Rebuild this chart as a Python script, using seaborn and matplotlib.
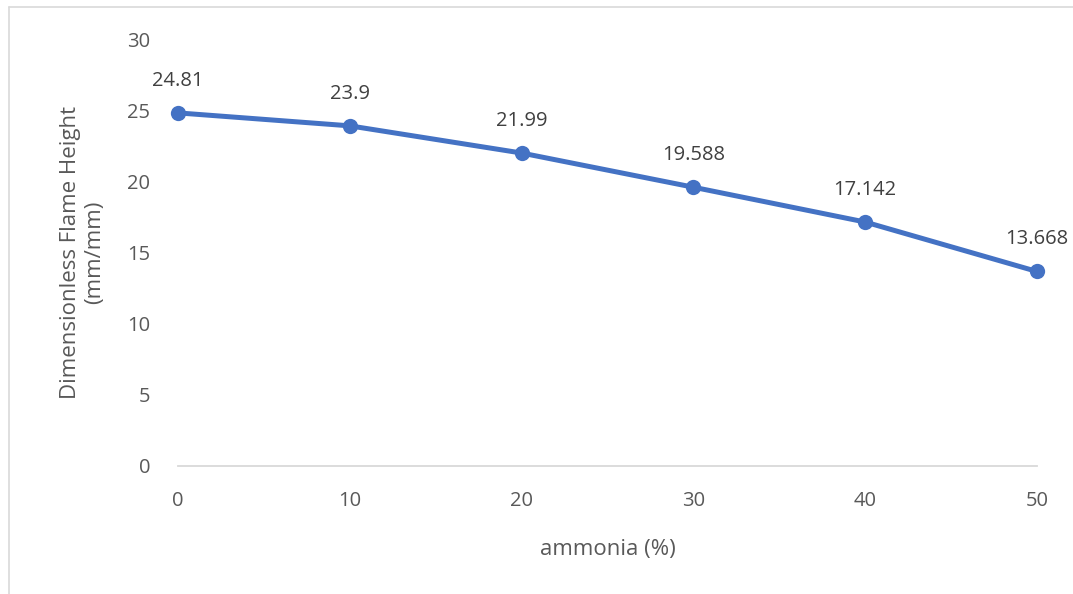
import matplotlib
matplotlib.use("Agg")
import matplotlib.pyplot as plt
import seaborn as sns
import pandas as pd
from matplotlib.lines import Line2D

ammonia = [0, 10, 20, 30, 40, 50]
flame_height = [24.81, 23.9, 21.99, 19.588, 17.142, 13.668]
point_labels = ["24.81", "23.9", "21.99", "19.588", "17.142", "13.668"]
y_ticks = [0, 5, 10, 15, 20, 25, 30]
x_ticks = [0, 10, 20, 30, 40, 50]

sns.set_style("white")
plt.rcParams["font.family"] = ["Open Sans", "DejaVu Sans"]

df = pd.DataFrame({"ammonia": ammonia, "height": flame_height})

fig = plt.figure(figsize=(10.73, 5.94), dpi=100)
ax = fig.add_axes([0.1659, 0.2155, 0.8005, 0.7188])

blue = "#4472C4"
sns.lineplot(data=df, x="ammonia", y="height", ax=ax, color=blue,
             linewidth=3.6, marker="o", markersize=11, markeredgewidth=0,
             clip_on=False)

# value labels above each point
for x, y, lab in zip(ammonia, flame_height, point_labels):
    ax.annotate(lab, (x, y), xytext=(0, 16), textcoords="offset points",
                ha="center", va="bottom", fontsize=14.5, color="#404040")

ax.set_xlim(0, 50)
ax.set_ylim(0, 30)
ax.set_xticks(x_ticks)
ax.set_yticks(y_ticks)
ax.tick_params(axis="both", length=0, labelsize=14.5, labelcolor="#595959")
ax.tick_params(axis="x", pad=18)
ax.tick_params(axis="y", pad=20)

for side in ["top", "right", "left"]:
    ax.spines[side].set_visible(False)
ax.spines["bottom"].set_color("#D9D9D9")
ax.spines["bottom"].set_linewidth(1.3)

ax.set_xlabel("ammonia (%)", fontsize=16, color="#595959", labelpad=20)
ax.set_ylabel("Dimensionless Flame Height\n(mm/mm)", fontsize=16,
              color="#595959", labelpad=16)

# chart area border (left and top edges visible)
fig.add_artist(Line2D([9 / 1073, 9 / 1073], [0, 1 - 7 / 594],
                      transform=fig.transFigure, color="#D9D9D9", linewidth=1.2))
fig.add_artist(Line2D([9 / 1073, 1], [1 - 7 / 594, 1 - 7 / 594],
                      transform=fig.transFigure, color="#D9D9D9", linewidth=1.2))

fig.savefig("out.png", dpi=100)
